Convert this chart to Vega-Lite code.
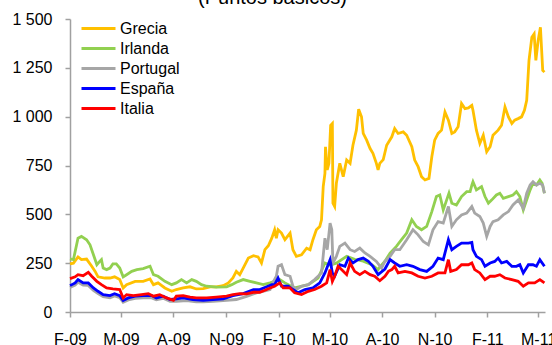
{
"$schema": "https://vega.github.io/schema/vega-lite/v6.json",
"width": 475, "height": 293,
"autosize": {"type": "none"},
"padding": {"left": 70, "top": 19, "right": 7, "bottom": 33},
"title": {"text": "(Puntos básicos)", "fontSize": 20, "font": "Liberation Sans", "fontWeight": "normal", "color": "#000000", "anchor": "middle", "dx": -35, "offset": 3},
"config": {"view": {"stroke": null}, "font": "Liberation Sans"},
"data": {"values": [
{"s":"Grecia","d":"2009-02-01","v":246},{"s":"Grecia","d":"2009-02-07","v":250},{"s":"Grecia","d":"2009-02-15","v":282},{"s":"Grecia","d":"2009-02-21","v":268},{"s":"Grecia","d":"2009-03-02","v":271},{"s":"Grecia","d":"2009-03-11","v":234},{"s":"Grecia","d":"2009-03-17","v":208},{"s":"Grecia","d":"2009-03-22","v":180},{"s":"Grecia","d":"2009-04-03","v":174},{"s":"Grecia","d":"2009-04-12","v":174},{"s":"Grecia","d":"2009-04-20","v":180},{"s":"Grecia","d":"2009-04-29","v":166},{"s":"Grecia","d":"2009-05-05","v":123},{"s":"Grecia","d":"2009-05-11","v":140},{"s":"Grecia","d":"2009-05-26","v":157},{"s":"Grecia","d":"2009-06-09","v":157},{"s":"Grecia","d":"2009-06-21","v":169},{"s":"Grecia","d":"2009-06-27","v":140},{"s":"Grecia","d":"2009-07-05","v":149},{"s":"Grecia","d":"2009-07-17","v":123},{"s":"Grecia","d":"2009-07-29","v":106},{"s":"Grecia","d":"2009-08-06","v":115},{"s":"Grecia","d":"2009-08-18","v":123},{"s":"Grecia","d":"2009-08-30","v":129},{"s":"Grecia","d":"2009-09-10","v":118},{"s":"Grecia","d":"2009-09-22","v":120},{"s":"Grecia","d":"2009-10-04","v":129},{"s":"Grecia","d":"2009-10-15","v":129},{"s":"Grecia","d":"2009-10-27","v":135},{"s":"Grecia","d":"2009-11-05","v":149},{"s":"Grecia","d":"2009-11-13","v":174},{"s":"Grecia","d":"2009-11-19","v":208},{"s":"Grecia","d":"2009-11-25","v":191},{"s":"Grecia","d":"2009-12-01","v":225},{"s":"Grecia","d":"2009-12-10","v":276},{"s":"Grecia","d":"2009-12-19","v":288},{"s":"Grecia","d":"2009-12-27","v":282},{"s":"Grecia","d":"2010-01-02","v":251},{"s":"Grecia","d":"2010-01-08","v":319},{"s":"Grecia","d":"2010-01-14","v":339},{"s":"Grecia","d":"2010-01-20","v":378},{"s":"Grecia","d":"2010-01-25","v":421},{"s":"Grecia","d":"2010-01-28","v":378},{"s":"Grecia","d":"2010-01-31","v":421},{"s":"Grecia","d":"2010-02-06","v":404},{"s":"Grecia","d":"2010-02-12","v":370},{"s":"Grecia","d":"2010-02-21","v":404},{"s":"Grecia","d":"2010-02-26","v":319},{"s":"Grecia","d":"2010-03-04","v":285},{"s":"Grecia","d":"2010-03-13","v":293},{"s":"Grecia","d":"2010-03-22","v":327},{"s":"Grecia","d":"2010-03-28","v":319},{"s":"Grecia","d":"2010-04-02","v":370},{"s":"Grecia","d":"2010-04-08","v":421},{"s":"Grecia","d":"2010-04-14","v":438},{"s":"Grecia","d":"2010-04-17","v":472},{"s":"Grecia","d":"2010-04-20","v":642},{"s":"Grecia","d":"2010-04-23","v":710},{"s":"Grecia","d":"2010-04-24","v":846},{"s":"Grecia","d":"2010-04-27","v":727},{"s":"Grecia","d":"2010-04-30","v":761},{"s":"Grecia","d":"2010-05-03","v":956},{"s":"Grecia","d":"2010-05-06","v":965},{"s":"Grecia","d":"2010-05-07","v":557},{"s":"Grecia","d":"2010-05-10","v":540},{"s":"Grecia","d":"2010-05-13","v":659},{"s":"Grecia","d":"2010-05-19","v":761},{"s":"Grecia","d":"2010-05-25","v":693},{"s":"Grecia","d":"2010-05-31","v":778},{"s":"Grecia","d":"2010-06-06","v":761},{"s":"Grecia","d":"2010-06-11","v":854},{"s":"Grecia","d":"2010-06-17","v":931},{"s":"Grecia","d":"2010-06-21","v":1038},{"s":"Grecia","d":"2010-06-26","v":999},{"s":"Grecia","d":"2010-06-29","v":914},{"s":"Grecia","d":"2010-07-05","v":880},{"s":"Grecia","d":"2010-07-11","v":837},{"s":"Grecia","d":"2010-07-16","v":812},{"s":"Grecia","d":"2010-07-22","v":761},{"s":"Grecia","d":"2010-07-25","v":727},{"s":"Grecia","d":"2010-07-28","v":761},{"s":"Grecia","d":"2010-08-03","v":780},{"s":"Grecia","d":"2010-08-09","v":854},{"s":"Grecia","d":"2010-08-18","v":897},{"s":"Grecia","d":"2010-08-23","v":939},{"s":"Grecia","d":"2010-08-29","v":914},{"s":"Grecia","d":"2010-09-07","v":922},{"s":"Grecia","d":"2010-09-13","v":905},{"s":"Grecia","d":"2010-09-22","v":846},{"s":"Grecia","d":"2010-09-27","v":778},{"s":"Grecia","d":"2010-10-03","v":744},{"s":"Grecia","d":"2010-10-09","v":693},{"s":"Grecia","d":"2010-10-15","v":676},{"s":"Grecia","d":"2010-10-22","v":684},{"s":"Grecia","d":"2010-10-27","v":795},{"s":"Grecia","d":"2010-11-01","v":880},{"s":"Grecia","d":"2010-11-07","v":914},{"s":"Grecia","d":"2010-11-13","v":931},{"s":"Grecia","d":"2010-11-19","v":1024},{"s":"Grecia","d":"2010-11-25","v":982},{"s":"Grecia","d":"2010-12-01","v":914},{"s":"Grecia","d":"2010-12-06","v":922},{"s":"Grecia","d":"2010-12-12","v":948},{"s":"Grecia","d":"2010-12-18","v":1067},{"s":"Grecia","d":"2010-12-24","v":1041},{"s":"Grecia","d":"2010-12-30","v":1045},{"s":"Grecia","d":"2011-01-05","v":1058},{"s":"Grecia","d":"2011-01-07","v":1033},{"s":"Grecia","d":"2011-01-13","v":931},{"s":"Grecia","d":"2011-01-19","v":863},{"s":"Grecia","d":"2011-01-25","v":905},{"s":"Grecia","d":"2011-01-31","v":820},{"s":"Grecia","d":"2011-02-06","v":846},{"s":"Grecia","d":"2011-02-11","v":905},{"s":"Grecia","d":"2011-02-20","v":931},{"s":"Grecia","d":"2011-02-26","v":956},{"s":"Grecia","d":"2011-03-04","v":1050},{"s":"Grecia","d":"2011-03-10","v":999},{"s":"Grecia","d":"2011-03-16","v":965},{"s":"Grecia","d":"2011-03-21","v":982},{"s":"Grecia","d":"2011-03-27","v":990},{"s":"Grecia","d":"2011-04-02","v":999},{"s":"Grecia","d":"2011-04-07","v":1033},{"s":"Grecia","d":"2011-04-11","v":1084},{"s":"Grecia","d":"2011-04-15","v":1288},{"s":"Grecia","d":"2011-04-20","v":1407},{"s":"Grecia","d":"2011-04-24","v":1424},{"s":"Grecia","d":"2011-04-27","v":1288},{"s":"Grecia","d":"2011-05-01","v":1390},{"s":"Grecia","d":"2011-05-05","v":1458},{"s":"Grecia","d":"2011-05-09","v":1237},{"s":"Grecia","d":"2011-05-12","v":1228},
{"s":"Irlanda","d":"2009-02-01","v":272},{"s":"Irlanda","d":"2009-02-07","v":268},{"s":"Irlanda","d":"2009-02-15","v":378},{"s":"Irlanda","d":"2009-02-21","v":387},{"s":"Irlanda","d":"2009-03-02","v":370},{"s":"Irlanda","d":"2009-03-08","v":344},{"s":"Irlanda","d":"2009-03-14","v":293},{"s":"Irlanda","d":"2009-03-20","v":242},{"s":"Irlanda","d":"2009-03-25","v":259},{"s":"Irlanda","d":"2009-03-28","v":268},{"s":"Irlanda","d":"2009-03-31","v":225},{"s":"Irlanda","d":"2009-04-06","v":217},{"s":"Irlanda","d":"2009-04-12","v":225},{"s":"Irlanda","d":"2009-04-17","v":246},{"s":"Irlanda","d":"2009-04-23","v":246},{"s":"Irlanda","d":"2009-04-29","v":225},{"s":"Irlanda","d":"2009-05-05","v":180},{"s":"Irlanda","d":"2009-05-11","v":191},{"s":"Irlanda","d":"2009-05-20","v":208},{"s":"Irlanda","d":"2009-05-29","v":217},{"s":"Irlanda","d":"2009-06-09","v":222},{"s":"Irlanda","d":"2009-06-21","v":234},{"s":"Irlanda","d":"2009-06-27","v":191},{"s":"Irlanda","d":"2009-07-05","v":183},{"s":"Irlanda","d":"2009-07-17","v":157},{"s":"Irlanda","d":"2009-07-29","v":140},{"s":"Irlanda","d":"2009-08-06","v":149},{"s":"Irlanda","d":"2009-08-15","v":166},{"s":"Irlanda","d":"2009-08-24","v":149},{"s":"Irlanda","d":"2009-09-02","v":166},{"s":"Irlanda","d":"2009-09-10","v":157},{"s":"Irlanda","d":"2009-09-19","v":140},{"s":"Irlanda","d":"2009-09-28","v":132},{"s":"Irlanda","d":"2009-10-15","v":127},{"s":"Irlanda","d":"2009-11-02","v":129},{"s":"Irlanda","d":"2009-11-11","v":140},{"s":"Irlanda","d":"2009-11-19","v":152},{"s":"Irlanda","d":"2009-12-01","v":166},{"s":"Irlanda","d":"2009-12-13","v":157},{"s":"Irlanda","d":"2009-12-24","v":149},{"s":"Irlanda","d":"2010-01-05","v":140},{"s":"Irlanda","d":"2010-01-17","v":149},{"s":"Irlanda","d":"2010-01-25","v":157},{"s":"Irlanda","d":"2010-02-03","v":166},{"s":"Irlanda","d":"2010-02-12","v":149},{"s":"Irlanda","d":"2010-03-01","v":123},{"s":"Irlanda","d":"2010-03-25","v":140},{"s":"Irlanda","d":"2010-04-11","v":174},{"s":"Irlanda","d":"2010-04-23","v":251},{"s":"Irlanda","d":"2010-05-02","v":240},{"s":"Irlanda","d":"2010-05-13","v":250},{"s":"Irlanda","d":"2010-05-31","v":285},{"s":"Irlanda","d":"2010-06-14","v":270},{"s":"Irlanda","d":"2010-06-29","v":260},{"s":"Irlanda","d":"2010-07-14","v":242},{"s":"Irlanda","d":"2010-07-25","v":217},{"s":"Irlanda","d":"2010-07-28","v":230},{"s":"Irlanda","d":"2010-08-06","v":260},{"s":"Irlanda","d":"2010-08-15","v":302},{"s":"Irlanda","d":"2010-08-26","v":336},{"s":"Irlanda","d":"2010-09-04","v":370},{"s":"Irlanda","d":"2010-09-13","v":404},{"s":"Irlanda","d":"2010-09-22","v":472},{"s":"Irlanda","d":"2010-09-30","v":438},{"s":"Irlanda","d":"2010-10-09","v":421},{"s":"Irlanda","d":"2010-10-18","v":438},{"s":"Irlanda","d":"2010-10-27","v":514},{"s":"Irlanda","d":"2010-11-04","v":591},{"s":"Irlanda","d":"2010-11-10","v":599},{"s":"Irlanda","d":"2010-11-16","v":523},{"s":"Irlanda","d":"2010-11-22","v":574},{"s":"Irlanda","d":"2010-11-26","v":608},{"s":"Irlanda","d":"2010-12-01","v":557},{"s":"Irlanda","d":"2010-12-09","v":548},{"s":"Irlanda","d":"2010-12-18","v":591},{"s":"Irlanda","d":"2010-12-27","v":616},{"s":"Irlanda","d":"2011-01-02","v":616},{"s":"Irlanda","d":"2011-01-05","v":650},{"s":"Irlanda","d":"2011-01-07","v":667},{"s":"Irlanda","d":"2011-01-13","v":625},{"s":"Irlanda","d":"2011-01-22","v":642},{"s":"Irlanda","d":"2011-01-28","v":591},{"s":"Irlanda","d":"2011-02-03","v":557},{"s":"Irlanda","d":"2011-02-09","v":574},{"s":"Irlanda","d":"2011-02-17","v":599},{"s":"Irlanda","d":"2011-02-23","v":608},{"s":"Irlanda","d":"2011-03-01","v":582},{"s":"Irlanda","d":"2011-03-10","v":591},{"s":"Irlanda","d":"2011-03-18","v":599},{"s":"Irlanda","d":"2011-03-24","v":616},{"s":"Irlanda","d":"2011-03-30","v":591},{"s":"Irlanda","d":"2011-04-05","v":523},{"s":"Irlanda","d":"2011-04-11","v":574},{"s":"Irlanda","d":"2011-04-17","v":625},{"s":"Irlanda","d":"2011-04-22","v":659},{"s":"Irlanda","d":"2011-04-28","v":650},{"s":"Irlanda","d":"2011-05-04","v":676},{"s":"Irlanda","d":"2011-05-08","v":659},{"s":"Irlanda","d":"2011-05-12","v":608},
{"s":"Portugal","d":"2009-02-01","v":125},{"s":"Portugal","d":"2009-02-10","v":138},{"s":"Portugal","d":"2009-02-15","v":152},{"s":"Portugal","d":"2009-02-24","v":138},{"s":"Portugal","d":"2009-03-05","v":136},{"s":"Portugal","d":"2009-03-14","v":110},{"s":"Portugal","d":"2009-03-22","v":94},{"s":"Portugal","d":"2009-03-31","v":78},{"s":"Portugal","d":"2009-04-12","v":73},{"s":"Portugal","d":"2009-04-20","v":82},{"s":"Portugal","d":"2009-04-29","v":73},{"s":"Portugal","d":"2009-05-05","v":50},{"s":"Portugal","d":"2009-05-14","v":62},{"s":"Portugal","d":"2009-05-26","v":70},{"s":"Portugal","d":"2009-06-09","v":73},{"s":"Portugal","d":"2009-06-24","v":72},{"s":"Portugal","d":"2009-07-02","v":62},{"s":"Portugal","d":"2009-07-14","v":70},{"s":"Portugal","d":"2009-07-26","v":55},{"s":"Portugal","d":"2009-08-06","v":55},{"s":"Portugal","d":"2009-08-24","v":58},{"s":"Portugal","d":"2009-09-10","v":52},{"s":"Portugal","d":"2009-09-22","v":52},{"s":"Portugal","d":"2009-10-09","v":55},{"s":"Portugal","d":"2009-10-27","v":58},{"s":"Portugal","d":"2009-11-19","v":64},{"s":"Portugal","d":"2009-12-07","v":80},{"s":"Portugal","d":"2009-12-24","v":98},{"s":"Portugal","d":"2010-01-08","v":108},{"s":"Portugal","d":"2010-01-17","v":115},{"s":"Portugal","d":"2010-01-22","v":150},{"s":"Portugal","d":"2010-01-28","v":183},{"s":"Portugal","d":"2010-01-31","v":234},{"s":"Portugal","d":"2010-02-06","v":242},{"s":"Portugal","d":"2010-02-12","v":191},{"s":"Portugal","d":"2010-02-21","v":183},{"s":"Portugal","d":"2010-02-26","v":132},{"s":"Portugal","d":"2010-03-04","v":115},{"s":"Portugal","d":"2010-03-13","v":132},{"s":"Portugal","d":"2010-03-25","v":140},{"s":"Portugal","d":"2010-04-05","v":166},{"s":"Portugal","d":"2010-04-17","v":200},{"s":"Portugal","d":"2010-04-23","v":378},{"s":"Portugal","d":"2010-04-27","v":319},{"s":"Portugal","d":"2010-05-02","v":455},{"s":"Portugal","d":"2010-05-05","v":421},{"s":"Portugal","d":"2010-05-07","v":251},{"s":"Portugal","d":"2010-05-13","v":285},{"s":"Portugal","d":"2010-05-19","v":336},{"s":"Portugal","d":"2010-05-28","v":353},{"s":"Portugal","d":"2010-06-06","v":319},{"s":"Portugal","d":"2010-06-14","v":310},{"s":"Portugal","d":"2010-06-23","v":327},{"s":"Portugal","d":"2010-07-02","v":302},{"s":"Portugal","d":"2010-07-11","v":285},{"s":"Portugal","d":"2010-07-22","v":259},{"s":"Portugal","d":"2010-07-31","v":225},{"s":"Portugal","d":"2010-08-06","v":259},{"s":"Portugal","d":"2010-08-15","v":285},{"s":"Portugal","d":"2010-08-23","v":319},{"s":"Portugal","d":"2010-09-01","v":319},{"s":"Portugal","d":"2010-09-13","v":370},{"s":"Portugal","d":"2010-09-24","v":421},{"s":"Portugal","d":"2010-10-03","v":395},{"s":"Portugal","d":"2010-10-12","v":361},{"s":"Portugal","d":"2010-10-21","v":344},{"s":"Portugal","d":"2010-10-29","v":421},{"s":"Portugal","d":"2010-11-07","v":463},{"s":"Portugal","d":"2010-11-16","v":455},{"s":"Portugal","d":"2010-11-25","v":540},{"s":"Portugal","d":"2010-12-01","v":438},{"s":"Portugal","d":"2010-12-09","v":472},{"s":"Portugal","d":"2010-12-18","v":497},{"s":"Portugal","d":"2010-12-27","v":506},{"s":"Portugal","d":"2011-01-05","v":540},{"s":"Portugal","d":"2011-01-10","v":506},{"s":"Portugal","d":"2011-01-19","v":489},{"s":"Portugal","d":"2011-01-25","v":455},{"s":"Portugal","d":"2011-01-31","v":387},{"s":"Portugal","d":"2011-02-06","v":438},{"s":"Portugal","d":"2011-02-11","v":463},{"s":"Portugal","d":"2011-02-20","v":472},{"s":"Portugal","d":"2011-03-01","v":497},{"s":"Portugal","d":"2011-03-10","v":514},{"s":"Portugal","d":"2011-03-18","v":548},{"s":"Portugal","d":"2011-03-27","v":574},{"s":"Portugal","d":"2011-04-05","v":531},{"s":"Portugal","d":"2011-04-11","v":608},{"s":"Portugal","d":"2011-04-17","v":650},{"s":"Portugal","d":"2011-04-22","v":667},{"s":"Portugal","d":"2011-04-28","v":650},{"s":"Portugal","d":"2011-05-04","v":659},{"s":"Portugal","d":"2011-05-09","v":650},{"s":"Portugal","d":"2011-05-12","v":608},
{"s":"España","d":"2009-02-01","v":135},{"s":"España","d":"2009-02-10","v":149},{"s":"España","d":"2009-02-15","v":166},{"s":"España","d":"2009-02-24","v":149},{"s":"España","d":"2009-03-05","v":149},{"s":"España","d":"2009-03-14","v":123},{"s":"España","d":"2009-03-22","v":106},{"s":"España","d":"2009-03-31","v":89},{"s":"España","d":"2009-04-12","v":84},{"s":"España","d":"2009-04-20","v":94},{"s":"España","d":"2009-04-29","v":84},{"s":"España","d":"2009-05-05","v":59},{"s":"España","d":"2009-05-14","v":72},{"s":"España","d":"2009-05-26","v":81},{"s":"España","d":"2009-06-09","v":84},{"s":"España","d":"2009-06-24","v":84},{"s":"España","d":"2009-07-02","v":72},{"s":"España","d":"2009-07-14","v":81},{"s":"España","d":"2009-07-26","v":64},{"s":"España","d":"2009-08-06","v":67},{"s":"España","d":"2009-08-18","v":72},{"s":"España","d":"2009-09-04","v":64},{"s":"España","d":"2009-09-22","v":60},{"s":"España","d":"2009-10-09","v":64},{"s":"España","d":"2009-10-27","v":67},{"s":"España","d":"2009-11-13","v":84},{"s":"España","d":"2009-12-01","v":94},{"s":"España","d":"2009-12-19","v":115},{"s":"España","d":"2009-12-30","v":115},{"s":"España","d":"2010-01-11","v":129},{"s":"España","d":"2010-01-20","v":140},{"s":"España","d":"2010-01-25","v":140},{"s":"España","d":"2010-01-31","v":174},{"s":"España","d":"2010-02-06","v":132},{"s":"España","d":"2010-02-18","v":132},{"s":"España","d":"2010-02-26","v":115},{"s":"España","d":"2010-03-07","v":98},{"s":"España","d":"2010-03-19","v":115},{"s":"España","d":"2010-04-02","v":123},{"s":"España","d":"2010-04-14","v":149},{"s":"España","d":"2010-04-23","v":200},{"s":"España","d":"2010-05-02","v":268},{"s":"España","d":"2010-05-06","v":200},{"s":"España","d":"2010-05-10","v":183},{"s":"España","d":"2010-05-19","v":242},{"s":"España","d":"2010-05-28","v":234},{"s":"España","d":"2010-06-03","v":276},{"s":"España","d":"2010-06-11","v":251},{"s":"España","d":"2010-06-20","v":268},{"s":"España","d":"2010-06-29","v":276},{"s":"España","d":"2010-07-08","v":259},{"s":"España","d":"2010-07-16","v":234},{"s":"España","d":"2010-07-25","v":191},{"s":"España","d":"2010-08-06","v":220},{"s":"España","d":"2010-08-15","v":268},{"s":"España","d":"2010-08-23","v":251},{"s":"España","d":"2010-09-01","v":234},{"s":"España","d":"2010-09-13","v":242},{"s":"España","d":"2010-09-24","v":234},{"s":"España","d":"2010-10-06","v":217},{"s":"España","d":"2010-10-18","v":208},{"s":"España","d":"2010-10-29","v":234},{"s":"España","d":"2010-11-07","v":276},{"s":"España","d":"2010-11-16","v":268},{"s":"España","d":"2010-11-25","v":370},{"s":"España","d":"2010-12-01","v":319},{"s":"España","d":"2010-12-09","v":336},{"s":"España","d":"2010-12-18","v":353},{"s":"España","d":"2010-12-30","v":353},{"s":"España","d":"2011-01-05","v":356},{"s":"España","d":"2011-01-07","v":319},{"s":"España","d":"2011-01-13","v":285},{"s":"España","d":"2011-01-22","v":268},{"s":"España","d":"2011-01-28","v":234},{"s":"España","d":"2011-02-06","v":251},{"s":"España","d":"2011-02-14","v":259},{"s":"España","d":"2011-02-20","v":276},{"s":"España","d":"2011-02-26","v":251},{"s":"España","d":"2011-03-07","v":259},{"s":"España","d":"2011-03-16","v":234},{"s":"España","d":"2011-03-24","v":234},{"s":"España","d":"2011-03-30","v":242},{"s":"España","d":"2011-04-05","v":200},{"s":"España","d":"2011-04-14","v":242},{"s":"España","d":"2011-04-22","v":242},{"s":"España","d":"2011-04-28","v":234},{"s":"España","d":"2011-05-04","v":268},{"s":"España","d":"2011-05-12","v":234},
{"s":"Italia","d":"2009-02-01","v":171},{"s":"Italia","d":"2009-02-10","v":180},{"s":"Italia","d":"2009-02-15","v":191},{"s":"Italia","d":"2009-02-24","v":186},{"s":"Italia","d":"2009-03-05","v":203},{"s":"Italia","d":"2009-03-11","v":183},{"s":"Italia","d":"2009-03-20","v":157},{"s":"Italia","d":"2009-03-28","v":140},{"s":"Italia","d":"2009-04-06","v":123},{"s":"Italia","d":"2009-04-17","v":118},{"s":"Italia","d":"2009-04-29","v":115},{"s":"Italia","d":"2009-05-05","v":72},{"s":"Italia","d":"2009-05-11","v":89},{"s":"Italia","d":"2009-05-23","v":84},{"s":"Italia","d":"2009-06-06","v":89},{"s":"Italia","d":"2009-06-18","v":94},{"s":"Italia","d":"2009-06-27","v":81},{"s":"Italia","d":"2009-07-08","v":89},{"s":"Italia","d":"2009-07-20","v":72},{"s":"Italia","d":"2009-08-01","v":60},{"s":"Italia","d":"2009-08-06","v":81},{"s":"Italia","d":"2009-08-18","v":84},{"s":"Italia","d":"2009-08-30","v":76},{"s":"Italia","d":"2009-09-10","v":72},{"s":"Italia","d":"2009-09-28","v":72},{"s":"Italia","d":"2009-10-15","v":76},{"s":"Italia","d":"2009-11-02","v":81},{"s":"Italia","d":"2009-11-13","v":89},{"s":"Italia","d":"2009-11-25","v":94},{"s":"Italia","d":"2009-12-07","v":93},{"s":"Italia","d":"2009-12-19","v":101},{"s":"Italia","d":"2009-12-30","v":101},{"s":"Italia","d":"2010-01-08","v":111},{"s":"Italia","d":"2010-01-17","v":123},{"s":"Italia","d":"2010-01-25","v":132},{"s":"Italia","d":"2010-02-03","v":149},{"s":"Italia","d":"2010-02-09","v":123},{"s":"Italia","d":"2010-02-21","v":123},{"s":"Italia","d":"2010-03-01","v":98},{"s":"Italia","d":"2010-03-13","v":89},{"s":"Italia","d":"2010-03-25","v":106},{"s":"Italia","d":"2010-04-05","v":115},{"s":"Italia","d":"2010-04-17","v":132},{"s":"Italia","d":"2010-04-26","v":149},{"s":"Italia","d":"2010-05-02","v":217},{"s":"Italia","d":"2010-05-06","v":157},{"s":"Italia","d":"2010-05-10","v":183},{"s":"Italia","d":"2010-05-16","v":234},{"s":"Italia","d":"2010-05-22","v":217},{"s":"Italia","d":"2010-05-31","v":191},{"s":"Italia","d":"2010-06-06","v":251},{"s":"Italia","d":"2010-06-14","v":208},{"s":"Italia","d":"2010-06-23","v":191},{"s":"Italia","d":"2010-07-02","v":208},{"s":"Italia","d":"2010-07-11","v":191},{"s":"Italia","d":"2010-07-19","v":183},{"s":"Italia","d":"2010-07-28","v":160},{"s":"Italia","d":"2010-08-06","v":183},{"s":"Italia","d":"2010-08-12","v":208},{"s":"Italia","d":"2010-08-18","v":217},{"s":"Italia","d":"2010-08-23","v":234},{"s":"Italia","d":"2010-08-29","v":200},{"s":"Italia","d":"2010-09-10","v":208},{"s":"Italia","d":"2010-09-22","v":200},{"s":"Italia","d":"2010-10-03","v":183},{"s":"Italia","d":"2010-10-15","v":174},{"s":"Italia","d":"2010-10-27","v":183},{"s":"Italia","d":"2010-11-07","v":200},{"s":"Italia","d":"2010-11-19","v":200},{"s":"Italia","d":"2010-11-25","v":268},{"s":"Italia","d":"2010-11-29","v":208},{"s":"Italia","d":"2010-12-09","v":217},{"s":"Italia","d":"2010-12-18","v":242},{"s":"Italia","d":"2010-12-30","v":242},{"s":"Italia","d":"2011-01-05","v":251},{"s":"Italia","d":"2011-01-10","v":217},{"s":"Italia","d":"2011-01-19","v":200},{"s":"Italia","d":"2011-01-28","v":166},{"s":"Italia","d":"2011-02-06","v":183},{"s":"Italia","d":"2011-02-14","v":183},{"s":"Italia","d":"2011-02-23","v":191},{"s":"Italia","d":"2011-03-04","v":174},{"s":"Italia","d":"2011-03-16","v":166},{"s":"Italia","d":"2011-03-27","v":157},{"s":"Italia","d":"2011-04-05","v":132},{"s":"Italia","d":"2011-04-14","v":149},{"s":"Italia","d":"2011-04-25","v":149},{"s":"Italia","d":"2011-05-04","v":166},{"s":"Italia","d":"2011-05-12","v":149}
]},
"mark": {"type": "line", "strokeWidth": 2.8, "interpolate": "linear"},
"encoding": {
"x": {"field": "d", "type": "temporal",
 "scale": {"type": "utc", "domain": [{"year": 2009, "month": 2, "date": 1, "utc": true}, {"year": 2011, "month": 5, "date": 13, "utc": true}]},
 "axis": {"title": null, "grid": false,
  "values": [{"year":2009,"month":2,"date":1,"utc":true},{"year":2009,"month":5,"date":1,"utc":true},{"year":2009,"month":8,"date":1,"utc":true},{"year":2009,"month":11,"date":1,"utc":true},{"year":2010,"month":2,"date":1,"utc":true},{"year":2010,"month":5,"date":1,"utc":true},{"year":2010,"month":8,"date":1,"utc":true},{"year":2010,"month":11,"date":1,"utc":true},{"year":2011,"month":2,"date":1,"utc":true},{"year":2011,"month":5,"date":1,"utc":true}],
  "labelExpr": "substring(utcFormat(datum.value, '%b'), 0, 1) + '-' + utcFormat(datum.value, '%y')",
  "labelFont": "Liberation Sans", "labelFontSize": 16, "labelColor": "#000000",
  "domainColor": "#A0A0A0", "domainWidth": 1.5, "tickColor": "#A0A0A0", "tickWidth": 1.5, "tickSize": 5,
  "labelPadding": 14, "labelOverlap": false, "labelFlush": false}},
"y": {"field": "v", "type": "quantitative",
 "scale": {"domain": [0, 1500], "nice": false},
 "axis": {"title": null, "grid": false, "values": [0, 250, 500, 750, 1000, 1250, 1500],
  "labelExpr": "replace(format(datum.value, ','), ',', ' ')",
  "labelFont": "Liberation Sans", "labelFontSize": 16, "labelColor": "#000000",
  "domainColor": "#A0A0A0", "domainWidth": 1.5, "tickColor": "#A0A0A0", "tickWidth": 1.5, "tickSize": 5,
  "labelPadding": 13}},
"color": {"field": "s", "type": "nominal",
 "scale": {"domain": ["Grecia", "Irlanda", "Portugal", "España", "Italia"], "range": ["#FFC000", "#92D050", "#A6A6A6", "#0000FF", "#FF0000"]},
 "legend": {"title": null, "orient": "none", "legendX": 10, "legendY": 0, "symbolType": "stroke", "symbolSize": 1156, "symbolStrokeWidth": 3, "clipHeight": 19.2, "labelFont": "Liberation Sans", "labelFontSize": 16, "labelColor": "#000000", "labelOffset": 3, "rowPadding": 0, "padding": 0}}
}
}
